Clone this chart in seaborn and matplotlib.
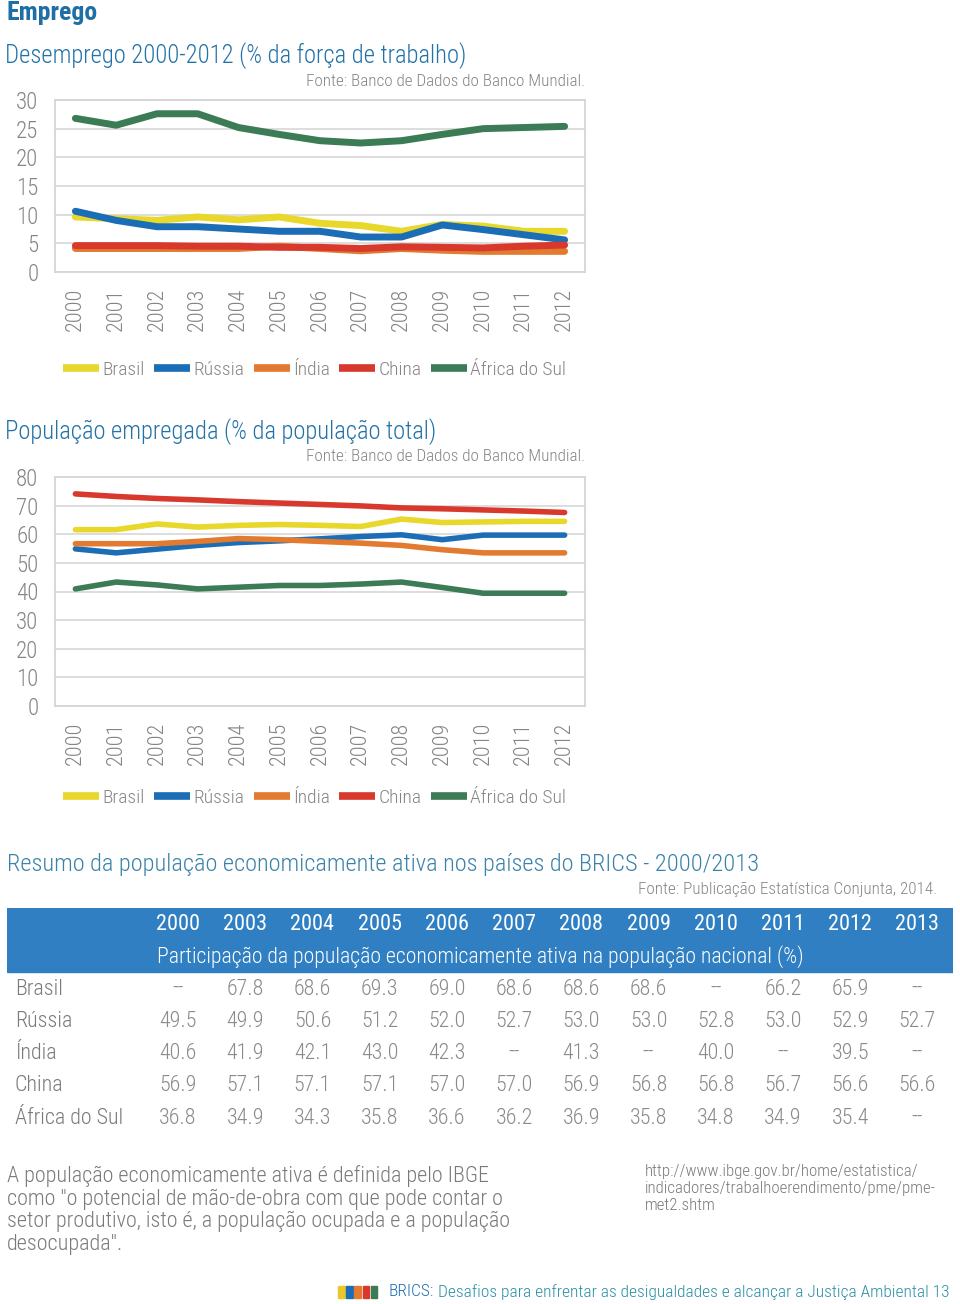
import numpy as np
import pandas as pd
import seaborn as sns
import matplotlib.pyplot as plt
from matplotlib import font_manager

# dados dos gráficos
anos = ['2000', '2001', '2002', '2003', '2004', '2005', '2006',
        '2007', '2008', '2009', '2010', '2011', '2012']
paises = ['Brasil', 'Rússia', 'Índia', 'China', 'África do Sul']
cores = ['#e8d82b', '#1b6db5', '#e27b30', '#d8392c', '#3b7b55']

# desemprego (% da força de trabalho)
des_brasil = [9.6, 9.3, 9.0, 9.6, 9.1, 9.6, 8.5, 8.1, 7.1, 8.3, 8.0, 7.1, 7.1]
des_russia = [10.6, 9.0, 7.9, 7.9, 7.5, 7.1, 7.1, 6.1, 6.1, 8.2, 7.4, 6.5, 5.6]
des_india = [4.1, 4.1, 4.1, 4.1, 4.1, 4.5, 4.1, 3.7, 4.1, 3.8, 3.6, 3.6, 3.6]
des_china = [4.6, 4.6, 4.6, 4.5, 4.5, 4.3, 4.3, 4.1, 4.4, 4.3, 4.2, 4.5, 4.7]
des_africa = [26.8, 25.6, 27.6, 27.6, 25.2, 24.0, 22.9, 22.5, 22.9, 24.0, 25.0, 25.2, 25.4]

# população empregada (% da população total)
emp_brasil = [61.6, 61.6, 63.6, 62.5, 63.1, 63.4, 63.1, 62.7, 65.3, 64.1, 64.3, 64.5, 64.5]
emp_russia = [54.9, 53.5, 54.8, 56.1, 57.1, 57.7, 58.4, 59.2, 59.8, 58.1, 59.7, 59.7, 59.7]
emp_india = [56.7, 56.7, 56.7, 57.5, 58.5, 58.1, 57.5, 56.9, 56.1, 54.6, 53.5, 53.5, 53.5]
emp_china = [74.1, 73.2, 72.5, 72.0, 71.4, 70.9, 70.4, 69.9, 69.2, 68.9, 68.5, 68.1, 67.6]
emp_africa = [40.9, 43.3, 42.3, 40.9, 41.5, 42.1, 42.1, 42.6, 43.3, 41.4, 39.4, 39.4, 39.4]

# tabela
anos_tab = ['2000', '2003', '2004', '2005', '2006', '2007', '2008',
            '2009', '2010', '2011', '2012', '2013']
tab_brasil = ['--', '67.8', '68.6', '69.3', '69.0', '68.6', '68.6', '68.6', '--', '66.2', '65.9', '--']
tab_russia = ['49.5', '49.9', '50.6', '51.2', '52.0', '52.7', '53.0', '53.0', '52.8', '53.0', '52.9', '52.7']
tab_india = ['40.6', '41.9', '42.1', '43.0', '42.3', '--', '41.3', '--', '40.0', '--', '39.5', '--']
tab_china = ['56.9', '57.1', '57.1', '57.1', '57.0', '57.0', '56.9', '56.8', '56.8', '56.7', '56.6', '56.6']
tab_africa = ['36.8', '34.9', '34.3', '35.8', '36.6', '36.2', '36.9', '35.8', '34.8', '34.9', '35.4', '--']

sns.set_style('white')
disponiveis = {f.name for f in font_manager.fontManager.ttflist}
familias = [f for f in ['Liberation Sans Narrow', 'Roboto Condensed', 'Roboto', 'DejaVu Sans']
            if f in disponiveis]
plt.rcParams['font.family'] = familias
plt.rcParams['font.weight'] = 'light'

azul_titulo = '#2272a8'
cinza = '#858585'


def df_longo(series):
    linhas = []
    for pais, valores in zip(paises, series):
        for ano, v in zip(anos, valores):
            linhas.append({'ano': ano, 'pais': pais, 'valor': v})
    return pd.DataFrame(linhas)


def grafico(ax, df, ymax, passo, lw, leg_y):
    sns.lineplot(data=df, x='ano', y='valor', hue='pais', hue_order=paises,
                 palette=cores, linewidth=lw, ax=ax, sort=False)
    ax.set_ylim(0, ymax)
    ax.set_xlim(-0.5, len(anos) - 0.5)
    ax.set_yticks(np.arange(0, ymax + 1, passo))
    ax.set_xlabel('')
    ax.set_ylabel('')
    ax.yaxis.grid(True, color='#dadada', linewidth=1.3)
    ax.set_axisbelow(True)
    for s in ax.spines.values():
        s.set_color('#d6d6d6')
        s.set_linewidth(1.3)
    ax.tick_params(length=0, colors=cinza)
    ax.tick_params(axis='y', pad=12, labelsize=16.5)
    ax.tick_params(axis='x', pad=11, labelsize=16)
    plt.setp(ax.get_xticklabels(), rotation=90)
    ax.legend(loc='center', bbox_to_anchor=(0.49, leg_y), ncol=5, frameon=False,
              fontsize=14, handlelength=1.85, handletextpad=0.15, columnspacing=0.5,
              labelcolor=cinza)
    for h in ax.get_legend().get_lines():
        h.set_linewidth(5.5)
        h.set_solid_capstyle('butt')


fig = plt.figure(figsize=(9.6, 13.04), dpi=100)
W, H = 960, 1304

fig.text(7 / W, 1 - 13 / H, 'Emprego', fontsize=18.5, fontweight='bold',
         color='#1f6fa6', va='center', ha='left')

# gráfico 1
fig.text(5 / W, 1 - 56 / H, 'Desemprego 2000-2012 (% da força de trabalho)',
         fontsize=17.7, color=azul_titulo, va='center', ha='left')
fig.text(585 / W, 1 - 82 / H, 'Fonte: Banco de Dados do Banco Mundial.',
         fontsize=12.3, color=cinza, va='center', ha='right')
ax1 = fig.add_axes([55 / W, 1 - 272 / H, 530 / W, 172 / H])
grafico(ax1, df_longo([des_brasil, des_russia, des_india, des_china, des_africa]),
        30, 5, 5, -0.57)

# gráfico 2
fig.text(5 / W, 1 - 432 / H, 'População empregada (% da população total)',
         fontsize=17.7, color=azul_titulo, va='center', ha='left')
fig.text(585 / W, 1 - 457 / H, 'Fonte: Banco de Dados do Banco Mundial.',
         fontsize=12.3, color=cinza, va='center', ha='right')
ax2 = fig.add_axes([55 / W, 1 - 706 / H, 530 / W, 229 / H])
grafico(ax2, df_longo([emp_brasil, emp_russia, emp_india, emp_china, emp_africa]),
        80, 10, 4, -0.4)

# tabela
fig.text(7 / W, 1 - 864 / H,
         'Resumo da população economicamente ativa nos países do BRICS - 2000/2013',
         fontsize=17.6, color='#3a82aa', va='center', ha='left')
fig.text(937 / W, 1 - 889 / H, 'Fonte: Publicação Estatística Conjunta, 2014.',
         fontsize=12.3, color=cinza, va='center', ha='right')

ax3 = fig.add_axes([7 / W, 1 - 1135 / H, 946 / W, 227 / H])
ax3.set_xlim(-2.545, 11.53)
ax3.set_ylim(4.52, -2.51)
ax3.axis('off')
ax3.axhspan(-2.51, -0.53, color='#2f7fc2', zorder=0)
for i, a in enumerate(anos_tab):
    ax3.text(i, -2, a, fontsize=16, color='white', fontweight='normal',
             ha='center', va='center')
ax3.text(4.5, -1, 'Participação da população economicamente ativa na população nacional (%)',
         fontsize=15.7, color='white', ha='center', va='center')
linhas_tab = [tab_brasil, tab_russia, tab_india, tab_china, tab_africa]
for r, (pais, vals) in enumerate(zip(paises, linhas_tab)):
    ax3.text(-2.43, r, pais, fontsize=15.8, color='#7a7a7a', ha='left', va='center')
    for i, v in enumerate(vals):
        ax3.text(i, r, v, fontsize=15.8, color='#8a8a8a', ha='center', va='center')

# rodapé
nota = ('A população economicamente ativa é definida pelo IBGE\n'
        'como "o potencial de mão-de-obra com que pode contar o\n'
        'setor produtivo, isto é, a população ocupada e a população\n'
        'desocupada".')
fig.text(7 / W, 1 - 1165 / H, nota, fontsize=15.9, color='#7a7a7a',
         va='top', ha='left', linespacing=1.1)
url = ('http://www.ibge.gov.br/home/estatistica/\n'
       'indicadores/trabalhoerendimento/pme/pme-\n'
       'met2.shtm')
fig.text(645 / W, 1 - 1164 / H, url, fontsize=12.2, color='#7a7a7a',
         va='top', ha='left', linespacing=1.15)

cores_barra = ['#e8c82b', '#1b6db5', '#e27b30', '#d8392c', '#3b7b55']
for k, c in enumerate(cores_barra):
    fig.patches.append(plt.Rectangle(((338 + k * 8.2) / W, 1 - 1298 / H), 6.5 / W, 12 / H,
                                     transform=fig.transFigure, color=c))
t = fig.text(389 / W, 1 - 1292 / H, 'BRICS:', fontsize=12.5, color='#1f6db5',
             va='center', ha='left')
fig.canvas.draw()
x_fim = t.get_window_extent().x1 / W
fig.text(x_fim + 4 / W, 1 - 1292 / H,
         'Desafios para enfrentar as desigualdades e alcançar a Justiça Ambiental 13',
         fontsize=12.5, color='#2a8fa5', va='center', ha='left')

fig.savefig('out.png', dpi=100)
